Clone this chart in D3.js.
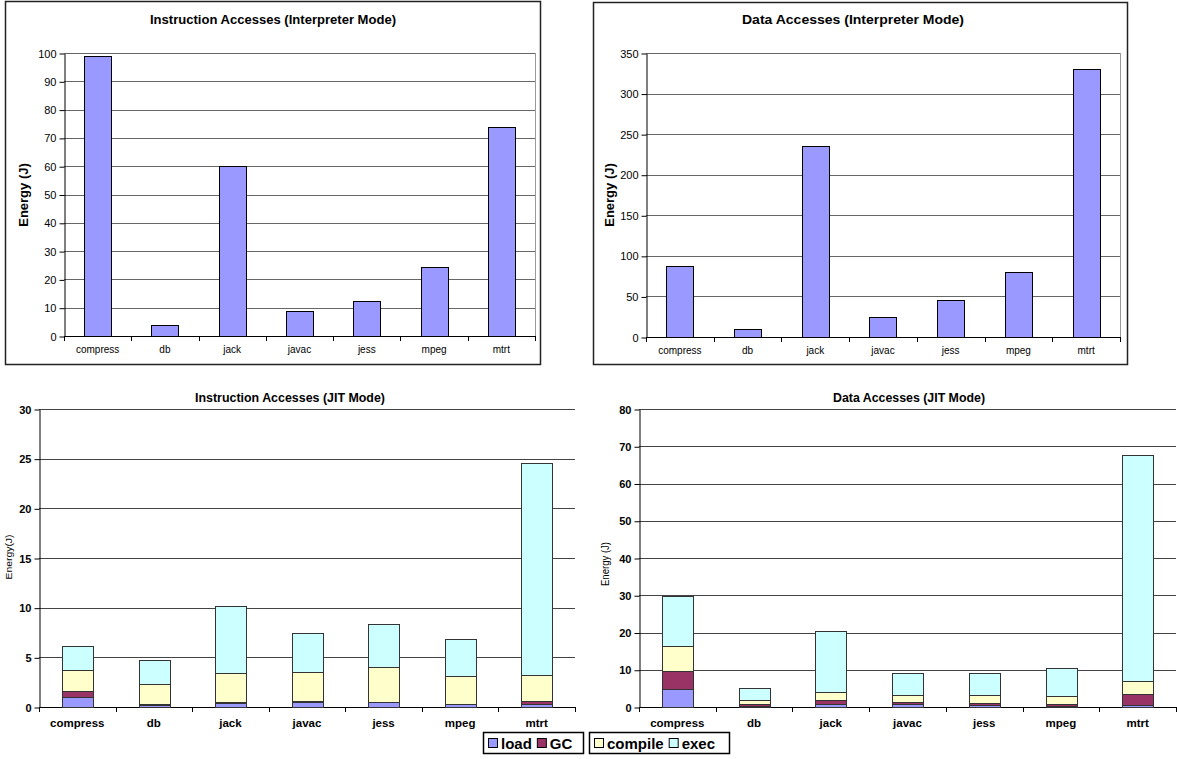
<!DOCTYPE html>
<html>
<head>
<meta charset="utf-8">
<script src="https://cdn.jsdelivr.net/npm/d3@7"></script>
<style>
  html, body { margin: 0; padding: 0; background: #fff; }
  svg { display: block; }
  text { font-family: Arial, "Liberation Sans", sans-serif; fill: #000; }
</style>
</head>
<body>
<svg id="chart" width="1177" height="759"></svg>
<script>
// Benchmarks (SPEC JVM98)
const categories = ["compress", "db", "jack", "javac", "jess", "mpeg", "mtrt"];

// Interpreter mode energy (J)
const instrInterp = [99, 4, 60, 8.7, 12.5, 24.5, 74];
const dataInterp = [87, 10, 235, 25, 45, 80, 330];

// JIT mode energy (J), split by phase
const seriesNames = ["load", "GC", "compile", "exec"];
const instrJitLoad    = [1.0, 0.25, 0.4, 0.55, 0.5, 0.3, 0.3];
const instrJitGC      = [0.6, 0.05, 0.1, 0.05, 0.05, 0.05, 0.3];
const instrJitCompile = [2.1, 2.05, 2.95, 2.9, 3.45, 2.8, 2.6];
const instrJitExec    = [2.45, 2.35, 6.7, 3.95, 4.35, 3.7, 21.4];

const dataJitLoad    = [4.7, 0.3, 0.7, 0.7, 0.5, 0.3, 0.5];
const dataJitGC      = [4.9, 0.4, 1.3, 0.6, 0.5, 0.4, 2.9];
const dataJitCompile = [6.9, 1.3, 2.1, 2.0, 2.3, 2.25, 3.6];
const dataJitExec    = [13.3, 3.2, 16.4, 5.7, 5.95, 7.65, 60.7];

// Tick values
const instrInterpTicks = [0, 10, 20, 30, 40, 50, 60, 70, 80, 90, 100];
const dataInterpTicks = [0, 50, 100, 150, 200, 250, 300, 350];
const instrJitTicks = [0, 5, 10, 15, 20, 25, 30];
const dataJitTicks = [0, 10, 20, 30, 40, 50, 60, 70, 80];

const seriesColors = ["#9999ff", "#993366", "#ffffcc", "#ccffff"];

const svg = d3.select("#chart");

function xBand(x0, x1) {
  return d3.scaleBand().domain(categories).range([x0, x1])
    .paddingInner(0.6).paddingOuter(0.3);
}

function drawAxes(g, x, y, ticks, opt) {
  const [x0, x1] = x.range();
  const [y0, y1] = y.range();
  const step = x.step();
  // gridlines
  g.append("g").selectAll("line").data(ticks.filter(t => t !== 0)).join("line")
    .attr("x1", x0).attr("x2", x1)
    .attr("y1", d => Math.round(y(d)) + 0.5).attr("y2", d => Math.round(y(d)) + 0.5)
    .attr("stroke", opt.grid).attr("stroke-width", 1);
  // plot-area frame (top charts)
  if (opt.frame) {
    g.append("line").attr("x1", Math.round(x1) + 0.5).attr("x2", Math.round(x1) + 0.5)
      .attr("y1", y1).attr("y2", y0).attr("stroke", "#999").attr("stroke-width", 1);
  }
  // y axis
  const yAxis = d3.axisLeft(y).tickValues(ticks).tickSize(5).tickSizeOuter(0).tickPadding(3);
  const ya = g.append("g").attr("transform", `translate(${Math.round(x0) + 0.5},0.5)`).call(yAxis);
  ya.select(".domain").attr("stroke", "#000");
  ya.selectAll(".tick line").attr("stroke", "#000");
  ya.selectAll(".tick text").attr("font-size", opt.yFont).attr("font-weight", opt.tickWeight)
    .attr("font-family", "Arial, 'Liberation Sans', sans-serif").attr("fill", "#000");
  // x axis baseline + boundary ticks
  g.append("line").attr("x1", x0).attr("x2", x1)
    .attr("y1", Math.round(y0) + 0.5).attr("y2", Math.round(y0) + 0.5).attr("stroke", "#000");
  g.append("g").selectAll("line").data(d3.range(categories.length + 1)).join("line")
    .attr("x1", i => Math.round(x0 + i * step) + 0.5).attr("x2", i => Math.round(x0 + i * step) + 0.5)
    .attr("y1", Math.round(y0)).attr("y2", Math.round(y0) + 5).attr("stroke", "#000");
  // category labels
  g.append("g").selectAll("text").data(categories).join("text")
    .attr("x", d => x(d) + x.bandwidth() / 2).attr("y", y0 + opt.xLabelDy)
    .attr("text-anchor", "middle").attr("font-size", opt.xFont).attr("font-weight", opt.tickWeight)
    .text(d => d);
}

function simpleChart(p) {
  const g = svg.append("g");
  // outer chart border
  g.append("rect").attr("x", p.box[0] + 0.5).attr("y", p.box[1] + 0.5)
    .attr("width", p.box[2] - p.box[0]).attr("height", p.box[3] - p.box[1])
    .attr("fill", "none").attr("stroke", "#222").attr("stroke-width", 1.5);
  const x = xBand(p.x0, p.x1);
  const y = d3.scaleLinear().domain([0, d3.max(p.ticks)]).range([p.y0, p.y1]);
  drawAxes(g, x, y, p.ticks, { grid: "#666", frame: true, yFont: 11, xFont: 10, tickWeight: "normal", xLabelDy: 17 });
  g.append("g").selectAll("rect").data(categories).join("rect")
    .attr("x", d => Math.round(x(d)) + 0.5).attr("width", Math.round(x.bandwidth()))
    .attr("y", (d, i) => Math.round(y(p.values[i])) + 0.5)
    .attr("height", (d, i) => Math.round(y(0)) - Math.round(y(p.values[i])))
    .attr("fill", "#9999ff").attr("stroke", "#000").attr("stroke-width", 1);
  g.append("text").attr("x", p.titleX).attr("y", p.titleY).attr("text-anchor", "middle")
    .attr("font-size", 12.5).attr("font-weight", "bold")
    .attr("textLength", p.titleLen).attr("lengthAdjust", "spacingAndGlyphs").text(p.title);
  g.append("text").attr("transform", `translate(${p.yLabelX},${p.yLabelY}) rotate(-90)`)
    .attr("text-anchor", "middle").attr("font-size", 13).attr("font-weight", "bold")
    .text("Energy (J)");
}

function stackedChart(p) {
  const g = svg.append("g");
  const x = xBand(p.x0, p.x1);
  const y = d3.scaleLinear().domain([0, d3.max(p.ticks)]).range([p.y0, p.y1]);
  drawAxes(g, x, y, p.ticks, { grid: "#444", frame: false, yFont: 11, xFont: 11.5, tickWeight: "bold", xLabelDy: 20 });
  const rows = categories.map((c, i) => {
    const r = { cat: c };
    seriesNames.forEach((s, k) => { r[s] = p.series[k][i]; });
    return r;
  });
  const stacked = d3.stack().keys(seriesNames)(rows);
  g.append("g").selectAll("g").data(stacked).join("g")
    .attr("fill", (d, k) => seriesColors[k])
    .selectAll("rect").data(d => d).join("rect")
    .attr("x", d => Math.round(x(d.data.cat)) + 0.5).attr("width", Math.round(x.bandwidth()))
    .attr("y", d => Math.round(y(d[1])) + 0.5)
    .attr("height", d => Math.max(0, Math.round(y(d[0])) - Math.round(y(d[1]))))
    .attr("stroke", "#333").attr("stroke-width", 1);
  g.append("text").attr("x", p.titleX).attr("y", p.titleY).attr("text-anchor", "middle")
    .attr("font-size", 12.5).attr("font-weight", "bold")
    .attr("textLength", p.titleLen).attr("lengthAdjust", "spacingAndGlyphs").text(p.title);
  g.append("text").attr("transform", `translate(${p.yLabelX},${p.yLabelY}) rotate(-90)`)
    .attr("text-anchor", "middle").attr("font-size", p.yLabelSize)
    .attr("textLength", p.yLabelLen).attr("lengthAdjust", "spacingAndGlyphs")
    .text(p.yLabel);
}

simpleChart({
  box: [5, 1, 540, 364], x0: 64, x1: 535, y0: 336, y1: 53,
  ticks: instrInterpTicks, values: instrInterp,
  title: "Instruction Accesses (Interpreter Mode)", titleX: 273, titleY: 24, titleLen: 246,
  yLabelX: 28, yLabelY: 195
});

simpleChart({
  box: [593, 2, 1127, 364], x0: 646, x1: 1120, y0: 337, y1: 53,
  ticks: dataInterpTicks, values: dataInterp,
  title: "Data Accesses (Interpreter Mode)", titleX: 853, titleY: 24, titleLen: 222,
  yLabelX: 614, yLabelY: 195
});

stackedChart({
  x0: 39, x1: 575, y0: 707, y1: 409,
  ticks: instrJitTicks,
  series: [instrJitLoad, instrJitGC, instrJitCompile, instrJitExec],
  title: "Instruction Accesses (JIT Mode)", titleX: 290, titleY: 402, titleLen: 190,
  yLabel: "Energy(J)", yLabelX: 12, yLabelY: 557, yLabelSize: 9.5, yLabelLen: 45
});

stackedChart({
  x0: 639, x1: 1176, y0: 707, y1: 409,
  ticks: dataJitTicks,
  series: [dataJitLoad, dataJitGC, dataJitCompile, dataJitExec],
  title: "Data Accesses (JIT Mode)", titleX: 909, titleY: 402, titleLen: 152,
  yLabel: "Energy (J)", yLabelX: 609, yLabelY: 564, yLabelSize: 10, yLabelLen: 44
});

// Legend: two framed groups
const legendGroups = [
  { x: 483, w: 100, keys: [0, 1] },
  { x: 589, w: 140, keys: [2, 3] }
];
const lg = svg.append("g");
legendGroups.forEach(grp => {
  lg.append("rect").attr("x", grp.x + 0.5).attr("y", 732.5).attr("width", grp.w).attr("height", 21)
    .attr("fill", "#fff").attr("stroke", "#000").attr("stroke-width", 1.5);
  let cx = grp.x + 5;
  grp.keys.forEach(k => {
    lg.append("rect").attr("x", cx + 0.5).attr("y", 738.5).attr("width", 9).attr("height", 9)
      .attr("fill", seriesColors[k]).attr("stroke", "#000").attr("stroke-width", 1);
    const t = lg.append("text").attr("x", cx + 13).attr("y", 749)
      .attr("font-size", 15).attr("font-weight", "bold").text(seriesNames[k]);
    cx += 13 + t.node().getComputedTextLength() + 5;
  });
});
</script>
</body>
</html>
